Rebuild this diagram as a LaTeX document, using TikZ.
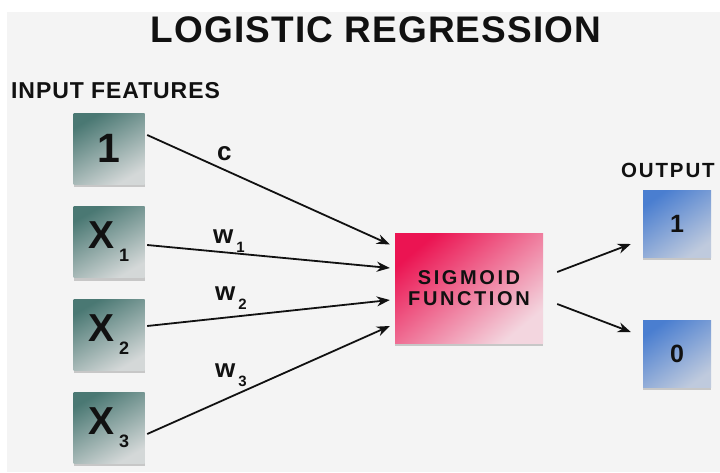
\documentclass[tikz,border=0pt]{standalone}
\usepackage{fontspec}
\setmainfont{Liberation Sans}
\newfontfamily\titlefont[LetterSpace=3]{Liberation Sans}
\newfontfamily\headfont[LetterSpace=4]{Liberation Sans}
\newfontfamily\trackfont[LetterSpace=9]{Liberation Sans}
\newfontfamily\sigfont[LetterSpace=13]{Liberation Sans}
\usetikzlibrary{arrows.meta,shadows}
\definecolor{bgcol}{HTML}{F4F4F4}
\definecolor{tealdark}{HTML}{4A7873}
\definecolor{teallight}{HTML}{D4D8D8}
\definecolor{pinkdark}{HTML}{EB1452}
\definecolor{pinklight}{HTML}{F3D6DF}
\definecolor{bluedark}{HTML}{4A7ED0}
\definecolor{bluelight}{HTML}{BFCADD}
\definecolor{ink}{HTML}{111111}
\newcommand{\xsub}[1]{{\fontsize{39}{39}\selectfont X}\kern4pt\raisebox{-13pt}{\fontsize{18}{18}\selectfont #1}}
\newcommand{\wsub}[1]{w\kern3pt\raisebox{-9pt}{\fontsize{15}{15}\selectfont #1}}
\tikzset{
  softshadow/.style={drop shadow={shadow xshift=0pt,shadow yshift=-3pt,opacity=0.18,fill=black}},
  inbox/.style={minimum width=71pt,minimum height=71pt,inner sep=0pt,
    top color=tealdark,bottom color=teallight,shading angle=30,softshadow,
    font=\bfseries\color{ink}},
  sigbox/.style={minimum width=148pt,minimum height=110pt,inner sep=0pt,
    top color=pinkdark,bottom color=pinklight,shading angle=40,softshadow,
    align=center,font=\sigfont\bfseries\fontsize{20}{20.5}\selectfont\color{ink}},
  outbox/.style={minimum width=68pt,minimum height=67pt,inner sep=0pt,
    top color=bluedark,bottom color=bluelight,shading angle=35,softshadow,
    font=\bfseries\fontsize{25}{25}\selectfont\color{ink}},
  arr/.style={draw=ink,line width=1.8pt,-{Stealth[length=13pt,width=10pt]}},
  wlabel/.style={inner sep=0pt,anchor=base west,font=\bfseries\fontsize{26}{26}\selectfont\color{ink}},
}
\begin{document}
\begin{tikzpicture}[x=1pt,y=-1pt]
\useasboundingbox (0,0) rectangle (720,472);
\fill[white] (0,0) rectangle (720,472);
\fill[bgcol] (7,12) rectangle (720,472);
% titles
\node[inner sep=0pt,font=\titlefont\bfseries\fontsize{37}{37}\selectfont\color{ink}] (title) at (376,30) {LOGISTIC REGRESSION};
\node[inner sep=0pt,anchor=west,font=\headfont\bfseries\fontsize{23}{23}\selectfont\color{ink}] (inlabel) at (11,91) {INPUT FEATURES};
\node[inner sep=0pt,anchor=west,font=\trackfont\bfseries\fontsize{20.5}{21}\selectfont\color{ink}] (outlabel) at (621,170) {OUTPUT};
% input boxes
\node[inbox] (in1) at (109,148.5) {\fontsize{41}{41}\selectfont 1};
\node[inbox] (in2) at (109,242) {\xsub{1}};
\node[inbox] (in3) at (109,334.5) {\xsub{2}};
\node[inbox] (in4) at (109,427.5) {\xsub{3}};
% sigmoid
\node[sigbox] (sig) at (469,288) {SIGMOID\\FUNCTION};
% outputs
\node[outbox] (out1) at (677,223.5) {1};
\node[outbox] (out0) at (677,353.5) {0};
% connectors
\draw[arr] ([xshift=2.5pt,yshift=13.5pt]in1.east) -- ([xshift=-5pt,yshift=43.5pt]sig.west);
\draw[arr] ([xshift=2.5pt,yshift=-3pt]in2.east) -- ([xshift=-5pt,yshift=20pt]sig.west);
\draw[arr] ([xshift=2.5pt,yshift=8.5pt]in3.east) -- ([xshift=-5pt,yshift=-12pt]sig.west);
\draw[arr] ([xshift=2.5pt,yshift=-6.5pt]in4.east) -- ([xshift=-5pt,yshift=-38pt]sig.west);
\draw[arr] ([xshift=14pt,yshift=16pt]sig.east) -- ([xshift=-12pt,yshift=-20.5pt]out1.west);
\draw[arr] ([xshift=14pt,yshift=-16pt]sig.east) -- ([xshift=-12pt,yshift=21.5pt]out0.west);
% weight labels
\node[wlabel] (lc) at (217,160) {c};
\node[wlabel] (lw1) at (213,243) {\wsub{1}};
\node[wlabel] (lw2) at (215,300) {\wsub{2}};
\node[wlabel] (lw3) at (215,377) {\wsub{3}};
\end{tikzpicture}
\end{document}
